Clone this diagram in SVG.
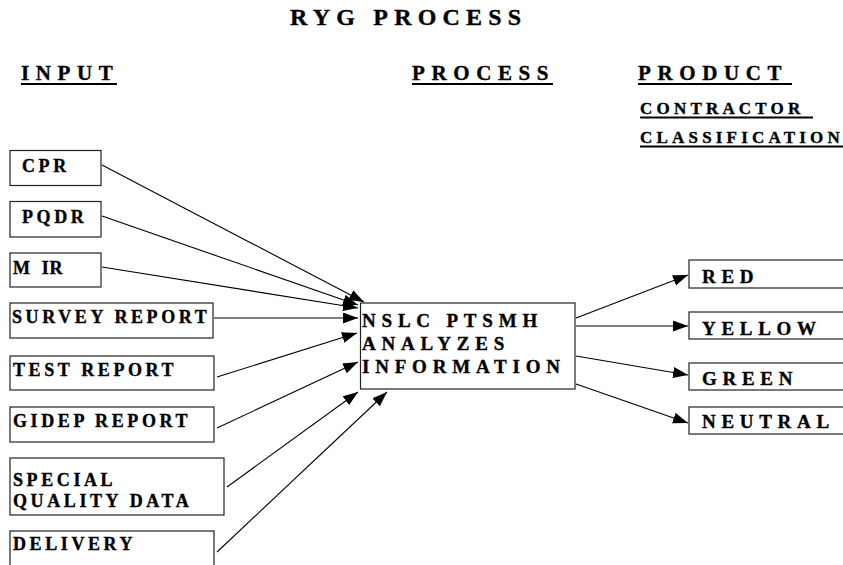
<svg xmlns="http://www.w3.org/2000/svg" width="843" height="565" viewBox="0 0 843 565">
<defs>
<style>
text{font-family:"Liberation Serif","Times New Roman",serif;font-weight:bold;fill:#000;stroke:#000;stroke-width:0.35}
.title{font-size:24px;letter-spacing:6.2px}
.hdr{font-size:21px;letter-spacing:6.6px}
.sub{font-size:17px;letter-spacing:4.2px}
.in{font-size:18px;letter-spacing:3.6px}
.proc{font-size:19px;letter-spacing:5.8px}
.out{font-size:19px;letter-spacing:5.7px}
.box{fill:#fff;stroke:#222;stroke-width:1.2}
.ul{stroke:#000;stroke-width:2}
.conn line{stroke:#000;stroke-width:1.1;marker-end:url(#ah)}
</style>
<marker id="ah" markerUnits="userSpaceOnUse" markerWidth="16" markerHeight="12" refX="15" refY="5.5" orient="auto">
<path d="M0,0 L15,5.5 L0,11 Z" fill="#000"/>
</marker>
</defs>
<rect width="843" height="565" fill="#fff"/>

<g id="headings">
<text class="title" x="290" y="25">RYG PROCESS</text>
<text class="hdr" x="21" y="80">INPUT</text>
<line class="ul" x1="21" y1="84" x2="117" y2="84"/>
<text class="hdr" x="412" y="80">PROCESS</text>
<line class="ul" x1="412" y1="84" x2="553" y2="84"/>
<text class="hdr" x="638" y="80">PRODUCT</text>
<line class="ul" x1="638" y1="84" x2="792" y2="84"/>
<text class="sub" x="640" y="114">CONTRACTOR</text>
<line class="ul" x1="640" y1="117.5" x2="813" y2="117.5"/>
<text class="sub" x="640" y="143">CLASSIFICATION</text>
<line class="ul" x1="640" y1="146.5" x2="843" y2="146.5"/>
</g>

<g id="conn" class="conn">
<line x1="102" y1="165" x2="364" y2="302"/>
<line x1="102" y1="216" x2="358" y2="305"/>
<line x1="102" y1="267" x2="358" y2="308"/>
<line x1="214" y1="318" x2="358" y2="318"/>
<line x1="217" y1="377" x2="357" y2="333"/>
<line x1="217" y1="428" x2="358" y2="362"/>
<line x1="227" y1="487" x2="358" y2="392"/>
<line x1="217" y1="552" x2="387" y2="392"/>
<line x1="576" y1="318" x2="688" y2="275"/>
<line x1="576" y1="326" x2="688" y2="326"/>
<line x1="576" y1="356" x2="688" y2="375"/>
<line x1="576" y1="384" x2="688" y2="423"/>
</g>

<g id="n-cpr"><rect class="box" x="10" y="150.5" width="91" height="35"/><text class="in" x="22" y="172">CPR</text></g>
<g id="n-pqdr"><rect class="box" x="10" y="201.5" width="91" height="35.5"/><text class="in" x="22" y="223">PQDR</text></g>
<g id="n-mir"><rect class="box" x="10" y="253" width="91" height="34"/><text class="in" x="13" y="274">M <tspan letter-spacing="0.8">I</tspan>R</text></g>
<g id="n-survey"><rect class="box" x="10" y="303" width="203" height="35"/><text class="in" x="12" y="323">SURVEY REPORT</text></g>
<g id="n-test"><rect class="box" x="10" y="356" width="204" height="34"/><text class="in" x="13" y="376">TEST REPORT</text></g>
<g id="n-gidep"><rect class="box" x="10" y="407" width="204" height="35"/><text class="in" x="13" y="427">GIDEP REPORT</text></g>
<g id="n-special"><rect class="box" x="10" y="458" width="214" height="57"/><text class="in" x="13" y="486">SPECIAL</text><text class="in" x="13" y="507">QUALITY DATA</text></g>
<g id="n-delivery"><rect class="box" x="10" y="531" width="204" height="40"/><text class="in" x="13" y="550">DELIVERY</text></g>

<g id="n-process"><rect class="box" x="360.5" y="303" width="214.5" height="86"/>
<text class="proc" x="362" y="327">NSLC PTSMH</text>
<text class="proc" x="362" y="350">ANALYZES</text>
<text class="proc" x="362" y="373">INFORMATION</text></g>

<g id="n-red"><rect class="box" x="689" y="260" width="160" height="28"/><text class="out" x="702" y="283">RED</text></g>
<g id="n-yellow"><rect class="box" x="689" y="312" width="160" height="27"/><text class="out" x="702" y="335">YELLOW</text></g>
<g id="n-green"><rect class="box" x="689" y="363" width="160" height="27"/><text class="out" x="702" y="385">GREEN</text></g>
<g id="n-neutral"><rect class="box" x="689" y="407" width="160" height="27"/><text class="out" x="702" y="428">NEUTRAL</text></g>
</svg>
